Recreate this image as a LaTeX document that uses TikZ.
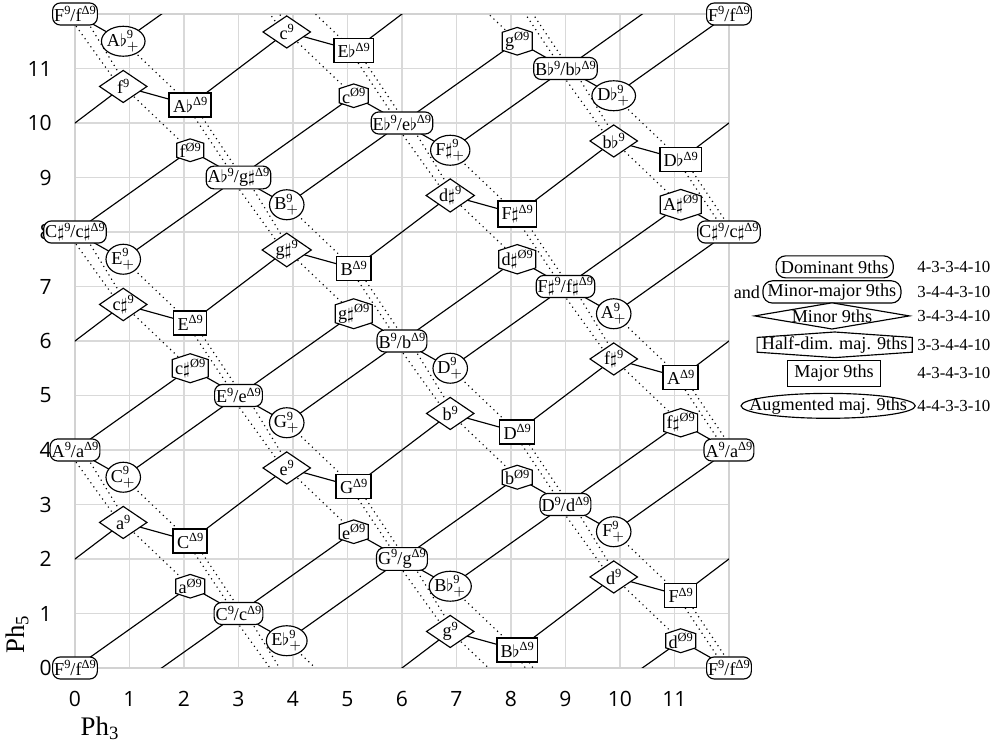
\documentclass[tikz,border=0pt]{standalone}
\usepackage{amsmath}
\usepackage{fontspec}
\setmainfont{Liberation Serif}
\newfontfamily\tickfont{Open Sans}
\usetikzlibrary{shapes.geometric,shapes.symbols}

\newcommand{\flt}{$\flat$}
\newcommand{\shp}{$\sharp$}
\newcommand{\up}[1]{\raisebox{0.8ex}{\fontsize{6.5}{7}\selectfont #1}}
\newcommand{\domlab}[2]{#1\up{9}/#2\up{Δ9}}
\newcommand{\auglab}[1]{#1$^{\text{\fontsize{6.5}{7}\selectfont 9}}_{+}$}
\newcommand{\minlab}[1]{#1\up{9}}
\newcommand{\hdlab}[1]{#1\up{Ø9}}
\newcommand{\majlab}[1]{#1\up{Δ9}}

\tikzset{
  gridline/.style={gray!30, line width=0.7pt},
  link/.style={black, semithick},
  vl/.style={black, semithick, dotted},
  ticklab/.style={font=\tickfont\fontsize{11}{13}\selectfont, inner sep=0pt},
  domnode/.style={draw, semithick, fill=white, rounded corners=4pt, inner xsep=0.8pt, inner ysep=1pt, minimum height=11.5pt, font=\fontsize{9.5}{11}\selectfont},
  augnode/.style={draw, semithick, fill=white, ellipse, inner xsep=-0.5pt, inner ysep=0pt, minimum width=18pt, minimum height=13pt, font=\fontsize{9.5}{11}\selectfont},
  minnode/.style={draw, semithick, fill=white, diamond, aspect=1.45, inner sep=0pt, minimum width=25pt, minimum height=17pt, font=\fontsize{9.5}{11}\selectfont},
  hdnode/.style={draw, semithick, fill=white, signal, signal to=north and south, signal pointer angle=144, inner xsep=1.5pt, inner ysep=-0.3pt, font=\fontsize{9.5}{11}\selectfont},
  majnode/.style={draw, thick, fill=white, rectangle, inner xsep=2pt, inner ysep=2pt, minimum height=12.5pt, font=\fontsize{9.5}{11}\selectfont},
  keytext/.style={font=\fontsize{9.5}{11}\selectfont},
}

\begin{document}
\begin{tikzpicture}
\useasboundingbox (-1.376,-1.376) rectangle (16.9,12.257);

% grid and axes
\draw[gridline] (0,0) grid (12,12);
\draw[gray!35, line width=0.9pt] (0,0) rectangle (12,12);
\foreach \k in {0,...,11} {
  \node[ticklab] (xt\k) at (\k,-0.57) {\k};
  \node[ticklab, anchor=east] (yt\k) at (-0.42,\k) {\k};
}
\node[rotate=90, font=\fontsize{14}{16}\selectfont] (ph5) at (-1.06,0.62) {Ph$_{\text{5}}$};
\node[font=\fontsize{14}{16}\selectfont] (ph3) at (0.46,-1.1) {Ph$_{\text{3}}$};

% chord positions (Ph3, Ph5)
\foreach \r in {0,...,11} {
  \pgfmathsetmacro{\px}{mod(39-3*\r,12)}
  \pgfmathsetmacro{\py}{mod(61-5*\r,12)}
  \coordinate (dom\r) at (\px,\py);
  \pgfmathsetmacro{\px}{mod(36.8855-3*\r,12)}
  \pgfmathsetmacro{\py}{mod(63.5-5*\r,12)}
  \coordinate (aug\r) at (\px,\py);
  \pgfmathsetmacro{\px}{mod(39.8855-3*\r,12)}
  \pgfmathsetmacro{\py}{mod(71.6701-5*\r,12)}
  \coordinate (min\r) at (\px,\py);
  \pgfmathsetmacro{\px}{mod(41.1145-3*\r,12)}
  \pgfmathsetmacro{\py}{mod(70.5-5*\r,12)}
  \coordinate (hd\r) at (\px,\py);
  \pgfmathsetmacro{\px}{mod(38.1145-3*\r,12)}
  \pgfmathsetmacro{\py}{mod(62.3299-5*\r,12)}
  \coordinate (maj\r) at (\px,\py);
}

% links, wrapped round the torus
\begin{scope}
\clip (0,0) rectangle (12,12);
\foreach \i in {-12,0} \foreach \j in {-12,0,12} \foreach \r in {0,...,11} {
  \draw[link] ([shift={(\i,\j)}]dom\r) -- ++(2.1145,1.5);
  \draw[link] ([shift={(\i,\j)}]dom\r) -- ++(0.8855,-0.5);
  \draw[link] ([shift={(\i,\j)}]hd\r) -- ++(0.8855,-0.5);
  \draw[link] ([shift={(\i,\j)}]aug\r) -- ++(2.1145,1.5);
  \draw[link] ([shift={(\i,\j)}]min\r) -- ++(1.229,-0.3403);
  \draw[link] ([shift={(\i,\j)}]maj\r) -- ++(1.771,1.3403);
  \draw[vl] ([shift={(\i,\j)}]aug\r) -- ++(1.229,-1.1701);
  \draw[vl] ([shift={(\i,\j)}]min\r) -- ++(1.229,-1.1701);
  \draw[vl] ([shift={(\i,\j)},xshift=-2pt]maj\r) -- ++(0.8855,-1.3299);
  \draw[vl] ([shift={(\i,\j)},xshift=2pt]maj\r) -- ++(0.8855,-1.3299);
  \draw[vl] ([shift={(\i,\j)},xshift=-4pt]dom\r) -- ++(0.9558,-1.3299);
  \draw[vl] ([shift={(\i,\j)},xshift=4pt]dom\r) -- ++(0.8152,-1.3299);
}
\end{scope}

% chords
\foreach \r/\X/\x in {0/C/c, 1/C\shp/c\shp, 2/D/d, 3/E\flt/e\flt, 4/E/e, 5/F/f, 6/F\shp/f\shp, 7/G/g, 8/A\flt/g\shp, 9/A/a, 10/B\flt/b\flt, 11/B/b}
  \node[domnode] (D\r) at (dom\r) {\domlab{\X}{\x}};
\node[domnode] (D5tl) at (0,12) {\domlab{F}{f}};
\node[domnode] (D5tr) at (12,12) {\domlab{F}{f}};
\node[domnode] (D5br) at (12,0) {\domlab{F}{f}};
\node[domnode] (D9r) at (12,4) {\domlab{A}{a}};
\node[domnode] (D1r) at (12,8) {\domlab{C\shp}{c\shp}};
\foreach \r/\X in {0/C, 1/D\flt, 2/D, 3/E\flt, 4/E, 5/F, 6/F\shp, 7/G, 8/A\flt, 9/A, 10/B\flt, 11/B}
  \node[augnode] (A\r) at (aug\r) {\auglab{\X}};
\foreach \r/\x in {0/c, 1/c\shp, 2/d, 3/d\shp, 4/e, 5/f, 6/f\shp, 7/g, 8/g\shp, 9/a, 10/b\flt, 11/b}
  \node[minnode] (m\r) at (min\r) {\minlab{\x}};
\foreach \r/\x in {0/c, 1/c\shp, 2/d, 3/d\shp, 4/e, 5/f, 6/f\shp, 7/g, 8/g\shp, 9/a, 10/A\shp, 11/b}
  \node[hdnode] (H\r) at (hd\r) {\hdlab{\x}};
\foreach \r/\X in {0/C, 1/D\flt, 2/D, 3/E\flt, 4/E, 5/F, 6/F\shp, 7/G, 8/A\flt, 9/A, 10/B\flt, 11/B}
  \node[majnode] (M\r) at (maj\r) {\majlab{\X}};

% key
\node[domnode, rounded corners=5pt, inner xsep=2.5pt, inner ysep=1.5pt] (key-dom) at (13.94,7.36) {Dominant 9ths};
\node[domnode, rounded corners=5pt, inner xsep=2.5pt, inner ysep=1.5pt] (key-mm) at (13.89,6.90) {Minor-major 9ths};
\node[keytext, anchor=east, inner xsep=1pt] (key-and) at (key-mm.west) {and};
\coordinate (key-min) at (13.89,6.46);
\draw[semithick, fill=white] (key-min) +(-1.42,0) -- +(0,0.24) -- +(1.42,0) -- +(0,-0.24) -- cycle;
\node[keytext] (key-min-t) at (key-min) {Minor 9ths};
\node[hdnode, signal pointer angle=172, inner xsep=2.5pt, inner ysep=-0.5pt] (key-hd) at (13.94,5.93) {Half-dim. maj. 9ths};
\node[majnode, semithick, inner xsep=3.5pt, inner ysep=2.5pt] (key-maj) at (13.93,5.41) {Major 9ths};
\node[augnode, inner xsep=-9pt, inner ysep=-0.5pt] (key-aug) at (13.82,4.81) {Augmented maj. 9ths};
\foreach \y/\s in {7.36/4-3-3-4-10, 6.90/3-4-4-3-10, 6.46/3-4-3-4-10, 5.93/3-3-4-4-10, 5.41/4-3-4-3-10, 4.81/4-4-3-3-10}
  \node[keytext, font=\fontsize{8.8}{10}\selectfont, anchor=west, inner xsep=0pt] at (15.45,\y) {\s};
\end{tikzpicture}
\end{document}
